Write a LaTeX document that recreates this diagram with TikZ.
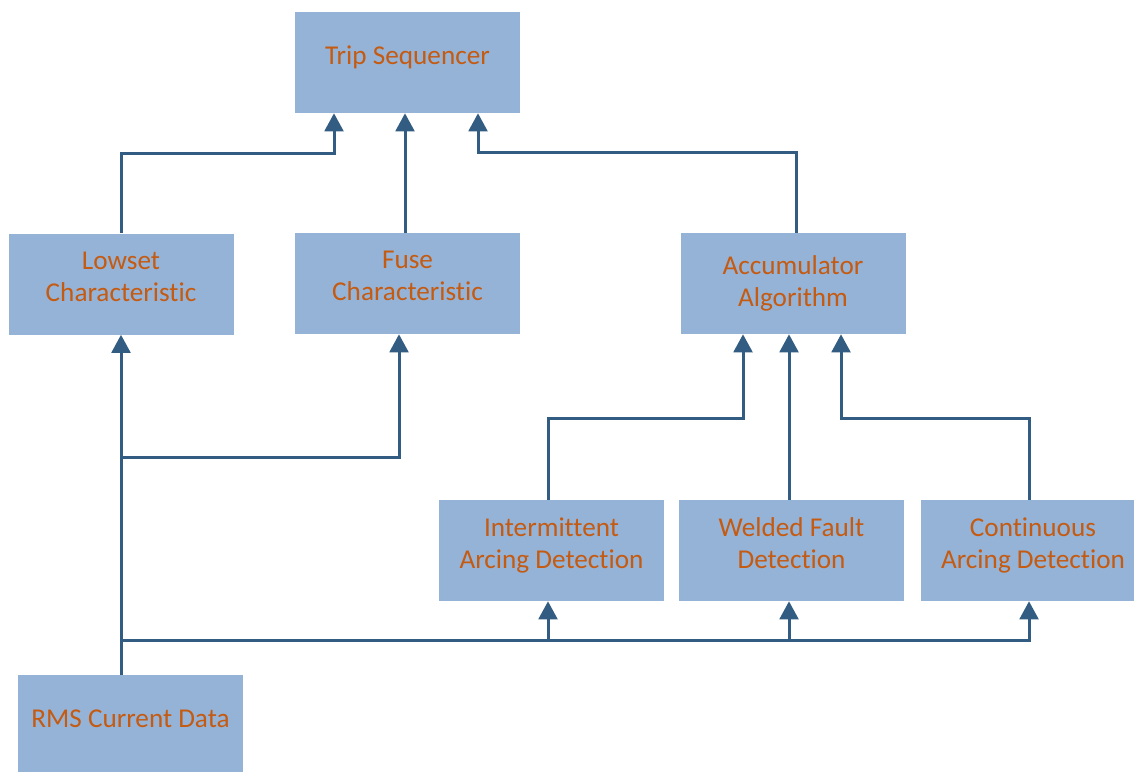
\documentclass[tikz,border=0pt]{standalone}
\usepackage{fontspec}
\setmainfont{Carlito}[Ligatures=NoCommon]
\usetikzlibrary{arrows.meta, positioning, calc}
\definecolor{boxblue}{RGB}{149, 179, 215}
\definecolor{txtorange}{RGB}{197, 90, 17}
\definecolor{wire}{RGB}{50, 92, 130}

\begin{document}
\begin{tikzpicture}[x=0.75pt, y=-0.75pt,
            block/.style={rectangle, fill=boxblue, text=txtorange, align=center, inner sep=0pt,
                minimum width=168.75pt, minimum height=75.75pt,
                font=\fontsize{20.4}{24}\selectfont},
            lifted/.style={block, execute at end node={\rule[-11pt]{0pt}{11pt}}},
            flow/.style={draw=wire, line width=2.25pt, -{Triangle[width=14pt, length=13.5pt]}}
        ]
            \useasboundingbox[fill=white] (0,0) rectangle (1134,771);

            \node[lifted] (trip) at (407.5,62.5) {Trip Sequencer};

            \node[lifted] (lowset) at (121,284) {Lowset\\Characteristic};
            \node[lifted] (fuse) at (407.5,283.5) {Fuse\\Characteristic};
            \node[block] (accum) at (793,283.5) {Accumulator\\Algorithm};

            \node[lifted] (inter) at (551.5,550.5) {Intermittent\\Arcing Detection};
            \node[lifted] (welded) at (791.5,550.5) {Welded Fault\\Detection};
            \node[lifted] (cont) at (1033,550.5) {Continuous\\Arcing Detection};

            \node[lifted] (rms) at (130.5,725.5) {RMS Current Data};

            % into the trip sequencer
            \draw[flow] (lowset.north) -- ++(0,-80) -| ($(trip.south)+(-73.5,0)$);
            \draw[flow] ($(fuse.north)+(-2.5,0)$) -- ($(trip.south)+(-2.5,0)$);
            \draw[flow] ($(accum.north)+(3,0)$) -- ++(0,-80) -| ($(trip.south)+(70.5,0)$);

            % rms data feeds everything
            \coordinate (bus) at ($(rms.north -| lowset.south)+(0,-34)$);
            \draw[flow] (rms.north -| lowset.south) -- (lowset.south);
            \draw[flow] ($(lowset.south)+(0,123)$) -| ($(fuse.south)+(-8.5,0)$);
            \foreach \n/\dx in {inter/-3.5, welded/-2.5, cont/-4}
                \draw[flow] (bus) -| ($(\n.south)+(\dx,0)$);

            % detectors into the accumulator
            \draw[flow] ($(inter.north)+(-3.5,0)$) -- ++(0,-81) -| ($(accum.south)+(-50,0)$);
            \draw[flow] ($(welded.north)+(-2.5,0)$) -- ($(accum.south)+(-4,0)$);
            \draw[flow] ($(cont.north)+(-4,0)$) -- ++(0,-81) -| ($(accum.south)+(48,0)$);
        \end{tikzpicture}
\end{document}
